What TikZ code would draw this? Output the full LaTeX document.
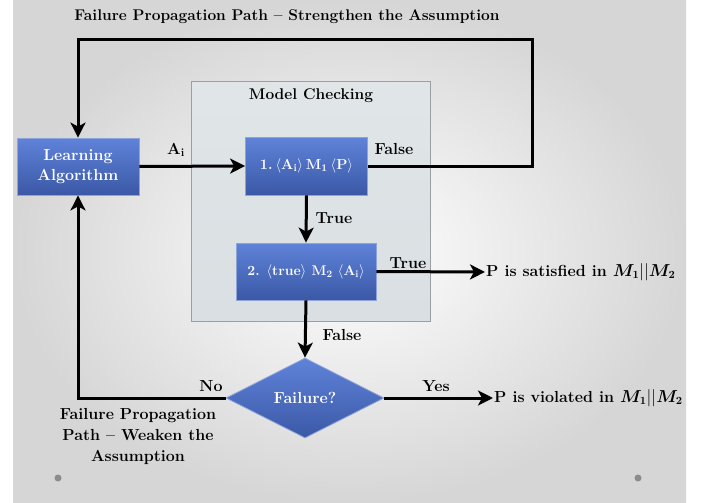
\documentclass[tikz,border=0pt]{standalone}
\usepackage{fontspec}
\usepackage{bm}
\usetikzlibrary{arrows.meta,shapes.geometric}
\definecolor{bluetop}{HTML}{5F83D9}
\definecolor{bluebot}{HTML}{3B58A6}
\definecolor{blueedge}{HTML}{8EA3D9}
\definecolor{mcfill}{HTML}{D9DFE2}
\definecolor{mcedge}{HTML}{9A9FA3}
\definecolor{bgedge}{HTML}{D6D6D6}
\newcommand{\lab}{\ensuremath{\langle}}
\newcommand{\rab}{\ensuremath{\rangle}}
\begin{document}
\begin{tikzpicture}[x=1pt,y=-1pt,
  blk/.style={draw=blueedge, line width=0.8pt, top color=bluetop, bottom color=bluebot,
    text=white, font=\fontsize{16}{20}\selectfont\bfseries, align=center, inner sep=1pt},
  arr/.style={line width=3pt, -{Stealth[length=15pt,width=15pt,inset=4pt]}},
  lbl/.style={font=\fontsize{16}{21}\selectfont\bfseries, text=black, inner sep=1pt},
  every node/.style={font=\fontsize{16}{21}\selectfont\bfseries}
]
\useasboundingbox (0,0) rectangle (704,503);
\fill[white] (0,0) rectangle (704,503);
\shade[inner color=white, outer color=bgedge] (13,0) rectangle (686,503);
\fill[gray!90] (58,478) circle (3.5);
\fill[gray!90] (638,478) circle (3.5);

% model checking box
\shade[top color=mcfill!80!white, bottom color=mcfill, draw=mcedge, line width=0.8pt] (191,81) rectangle (430,321);
\node[lbl, font=\fontsize{15.5}{19}\selectfont\bfseries] (mc) at (311,96) {Model Checking};

\node[lbl, font=\fontsize{15.5}{19}\selectfont\bfseries] (title) at (287,17) {Failure Propagation Path -- Strengthen the Assumption};

\node[blk, minimum width=122pt, minimum height=57pt] (la) at (78,166.5) {Learning\\Algorithm};
\node[blk, minimum width=122pt, minimum height=58pt, font=\fontsize{14.5}{17}\selectfont\bfseries] (bone) at (306.5,166) {1.\hspace{3pt}\lab A\textsubscript{i}\rab\hspace{3pt}M\textsubscript{1}\hspace{3pt}\lab P\rab};
\node[blk, minimum width=140pt, minimum height=57pt, font=\fontsize{14}{17}\selectfont\bfseries] (btwo) at (306,271.5) {2. \lab true\rab{} M\textsubscript{2} \lab A\textsubscript{i}\rab};
\node[blk, diamond, minimum width=158pt, minimum height=80pt, inner sep=0pt] (fail) at (305,398) {Failure?};

\node[lbl, anchor=west] (sat) at (485,272) {P is satisfied in $\bm{M_1}||\bm{M_2}$};
\node[lbl, anchor=west] (vio) at (493,398) {P is violated in $\bm{M_1}||\bm{M_2}$};

\node[lbl, align=center] (weak) at (138,436) {Failure Propagation\\Path -- Weaken the\\Assumption};

\coordinate (c1) at (532,40);

\draw[arr] (la.east) -- (bone.west);
\node[lbl] (ai) at (176,150) {A\textsubscript{i}};
\draw[arr] (bone.east) -| (c1) -| (la.north);
\node[lbl] (f1) at (394,149) {False};
\draw[arr] (bone.south) -- (btwo.north);
\node[lbl] (t1) at (334,218) {True};
\draw[arr] (btwo.east) -- (sat.west);
\node[lbl] (t2) at (408,263) {True};
\draw[arr] (btwo.south) -- (fail.north);
\node[lbl] (f2) at (342,335) {False};
\draw[arr] (fail.west) -| (la.south);
\node[lbl] (no) at (211,386) {No};
\draw[arr] (fail.east) -- (vio.west);
\node[lbl] (yes) at (436,386) {Yes};
\end{tikzpicture}
\end{document}
